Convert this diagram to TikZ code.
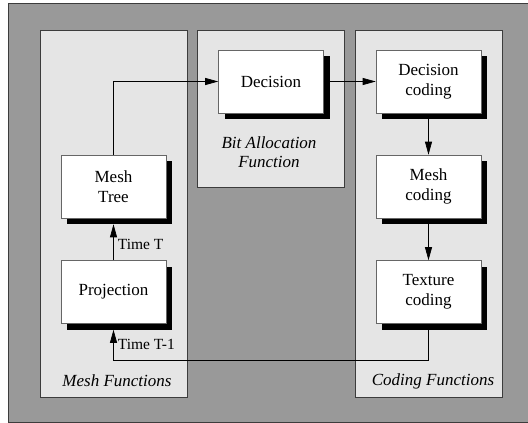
\documentclass[tikz,border=0pt]{standalone}
\usepackage{fontspec}
\setmainfont{Liberation Serif}
\usepackage{tikz}
\usetikzlibrary{arrows.meta, positioning, shadows}
\definecolor{framegray}{RGB}{153,153,153}
\definecolor{panelgray}{RGB}{229,229,229}
\definecolor{edgegray}{RGB}{60,60,60}

\begin{document}
\begin{tikzpicture}[
    x=1pt, y=-1pt,
    every node/.style={font=\fontsize{17}{20}\selectfont},
    panel/.style={rectangle, draw=edgegray, line width=0.8pt, fill=panelgray},
    funcbox/.style={rectangle, draw=gray!80!black, line width=0.6pt, fill=white, minimum width=105pt, minimum height=63pt, align=center, inner sep=0pt,
        drop shadow={shadow xshift=6pt, shadow yshift=-6pt, fill=black, opacity=1}},
    paneltitle/.style={font=\fontsize{17}{19}\selectfont\itshape, align=center},
    timelabel/.style={font=\fontsize{15.5}{18}\selectfont, right, inner sep=4pt},
    arrow/.style={-{Triangle[length=13pt, width=7pt]}, line width=0.7pt}
]

\useasboundingbox (0,0) rectangle (528,423);
\fill[white] (0,0) rectangle (528,423);
\draw[fill=framegray, draw=edgegray, line width=1pt] (8,3) rectangle (540,422);

% panels
\draw[panel] (40,30) rectangle (187,397);
\draw[panel] (197,30) rectangle (344,187);
\draw[panel] (355,30) rectangle (502,397);

\node[paneltitle] (meshfn) at (117,381) {Mesh Functions};
\node[paneltitle] (bitfn) at (269,152.5) {Bit Allocation\\Function};
\node[paneltitle] (codefn) at (433,381) {Coding Functions};

% boxes
\node[funcbox] (dec) at (271,81.5) {Decision};
\node[funcbox] (dcod) at (428.5,81.5) {Decision\\coding};
\node[funcbox] (mcod) at (428.5,186.5) {Mesh\\coding};
\node[funcbox] (tcod) at (428.5,292) {Texture\\coding};
\node[funcbox] (tree) at (113.5,186.5) {Mesh\\Tree};
\node[funcbox] (proj) at (113.5,292) {Projection};

% connectors (shadow bottoms count as box edges)
\draw[arrow] (tree.north) |- (dec.west);
\draw[arrow] (dec.east) -- (dcod.west);
\draw[arrow] ([yshift=-6pt]dcod.south) -- (mcod.north);
\draw[arrow] ([yshift=-6pt]mcod.south) -- (tcod.north);
\draw[arrow] (proj.north) -- node[timelabel, pos=0.45] {Time T} ([yshift=-6pt]tree.south);
\draw[arrow] ([yshift=-6pt]tcod.south) -- ++(0,31) -| node[timelabel, pos=0.77] {Time T-1} ([yshift=-6pt]proj.south);

\end{tikzpicture}
\end{document}
